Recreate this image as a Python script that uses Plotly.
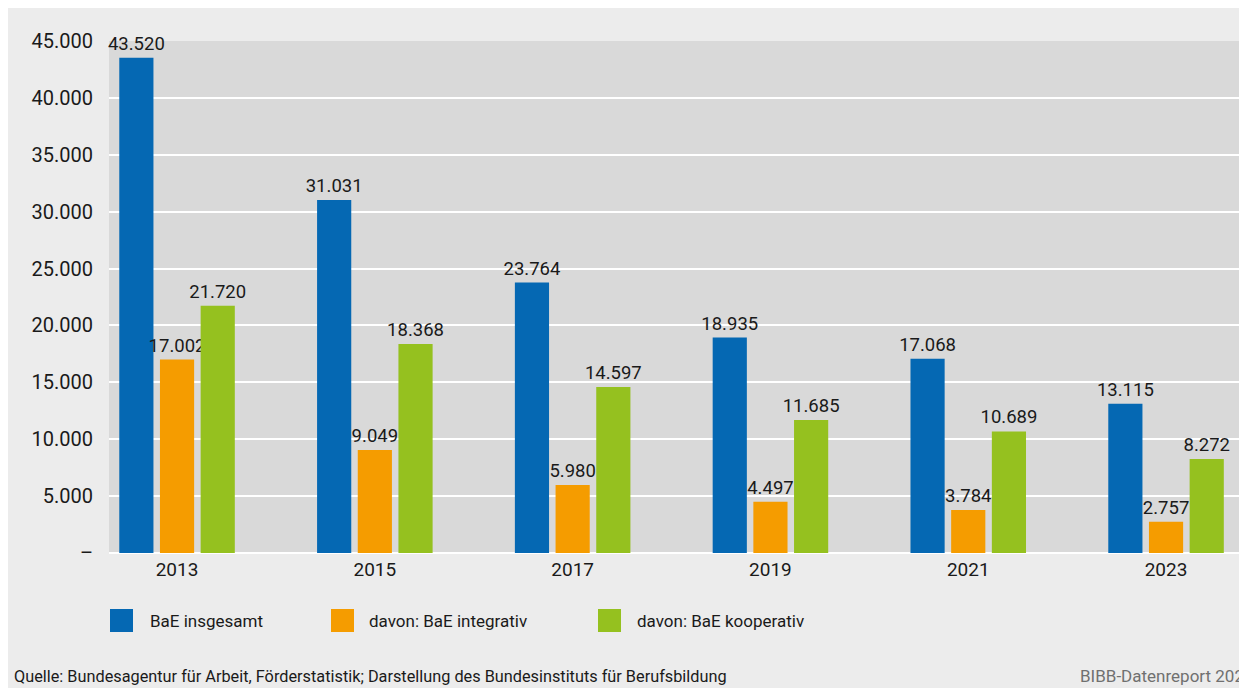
import plotly.graph_objects as go

years = ["2013", "2015", "2017", "2019", "2021", "2023"]
series_names = ["BaE insgesamt", "davon: BaE integrativ", "davon: BaE kooperativ"]
insgesamt = [43520, 31031, 23764, 18935, 17068, 13115]
integrativ = [17002, 9049, 5980, 4497, 3784, 2757]
kooperativ = [21720, 18368, 14597, 11685, 10689, 8272]
colors = ["#0568b3", "#f59c00", "#95c11f"]
y_tickvals = [0, 5000, 10000, 15000, 20000, 25000, 30000, 35000, 40000, 45000]
y_ticktext = ["–", "5.000", "10.000", "15.000", "20.000", "25.000", "30.000", "35.000", "40.000", "45.000"]
source_text = "Quelle: Bundesagentur für Arbeit, Förderstatistik; Darstellung des Bundesinstituts für Berufsbildung"
brand_text = "BIBB-Datenreport 2025"

FONT = "Roboto, Lato, sans-serif"
W, H = 1247, 680
ML, MR, MT, MB = 101, 5, 33, 135
PW, PH = W - ML - MR, H - MT - MB
OFF = 8  # page body margin


def fmt(v):
    return f"{v:,}".replace(",", ".")


def px(x):
    # page x pixel -> paper coordinate
    return (x - OFF - ML) / PW


def py(y):
    # page y pixel -> paper coordinate
    return (OFF + H - MB - y) / PH


fig = go.Figure()
for name, vals, col in zip(series_names, [insgesamt, integrativ, kooperativ], colors):
    fig.add_trace(go.Bar(
        x=years, y=vals, name=name,
        marker=dict(color=col, line=dict(width=0)),
        text=[fmt(v) for v in vals],
        textposition="outside",
        constraintext="none",
        textfont=dict(family=FONT, size=18.5, color="#1a1a1a"),
        cliponaxis=False,
        showlegend=False,
    ))

shapes = []
annotations = []
legend_sq_x = [110, 331, 598]
legend_txt_x = [148, 367, 635]
for i, name in enumerate(series_names):
    shapes.append(dict(type="rect", xref="paper", yref="paper",
                       x0=px(legend_sq_x[i]), x1=px(legend_sq_x[i] + 23),
                       y0=py(632), y1=py(609),
                       fillcolor=colors[i], line=dict(width=0)))
    annotations.append(dict(xref="paper", yref="paper", x=px(legend_txt_x[i]), y=py(621),
                            xanchor="left", yanchor="middle", showarrow=False, text=name,
                            font=dict(family=FONT, size=17, color="#1a1a1a")))

annotations.append(dict(xref="paper", yref="paper", x=px(12), y=py(676),
                        xanchor="left", yanchor="middle", showarrow=False, text=source_text,
                        font=dict(family=FONT, size=16.3, color="#1a1a1a")))
annotations.append(dict(xref="paper", yref="paper", x=px(1078), y=py(676),
                        xanchor="left", yanchor="middle", showarrow=False, text=brand_text,
                        font=dict(family=FONT, size=17, color="#707070")))

cat_w = 197.8
x_lo = -0.344
fig.update_layout(
    width=W, height=H,
    margin=dict(l=ML, r=MR, t=MT, b=MB, pad=0),
    paper_bgcolor="#ececec",
    plot_bgcolor="#d9d9d9",
    barmode="group",
    bargap=0.383,
    bargroupgap=0.16,
    font=dict(family=FONT, size=19, color="#1a1a1a"),
    shapes=shapes,
    annotations=annotations,
    xaxis=dict(
        type="category", range=[x_lo, x_lo + PW / cat_w],
        showgrid=False, zeroline=False, showline=False,
        ticks="", tickfont=dict(family=FONT, size=19, color="#1a1a1a"),
        ticklabelstandoff=3,
    ),
    yaxis=dict(
        range=[0, 45000],
        tickvals=y_tickvals, ticktext=y_ticktext,
        showgrid=True, gridcolor="white", gridwidth=2,
        zeroline=True, zerolinecolor="white", zerolinewidth=2,
        showline=False, ticks="",
        tickfont=dict(family=FONT, size=20, color="#1a1a1a"),
        ticklabelstandoff=15,
    ),
)

fig.write_html("out.html")
